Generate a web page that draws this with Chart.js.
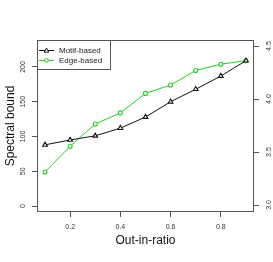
<!DOCTYPE html>
<html>
<head>
<meta charset="utf-8">
<script src="https://cdn.jsdelivr.net/npm/chart.js@4"></script>
<style>
  html, body { margin: 0; padding: 0; background: #fff; }
  #wrap { width: 273px; height: 262px; }
</style>
</head>
<body>
<div id="wrap"><canvas id="chart"></canvas></div>
<script>
  // values
  const outInRatio = [0.1, 0.2, 0.3, 0.4, 0.5, 0.6, 0.7, 0.8, 0.9];
  const motifBased = [88, 95, 101, 112, 128, 150, 168, 187, 209];
  const edgeBased = [49, 86, 118, 134, 162, 174, 195, 204, 209];
  const xTicks = [0.2, 0.4, 0.6, 0.8];
  const yTicks = [0, 50, 100, 150, 200];
  const y2Ticks = [3.0, 3.5, 4.0, 4.5];

  const FONT = "'Liberation Sans', Arial, sans-serif";
  const AXIS = '#555';
  const GREEN = '#22d022';

  const pts = (ys) => ys.map((y, i) => ({ x: outInRatio[i], y: y }));
  const setTicks = (arr) => (scale) => { scale.ticks = arr.map((v) => ({ value: v })); };

  // R style box round the plot, rotated y tick labels and the legend
  const rStyle = {
    id: 'rStyle',
    afterDraw(chart) {
      const ctx = chart.ctx;
      const a = chart.chartArea;
      ctx.save();
      ctx.strokeStyle = AXIS;
      ctx.lineWidth = 1;
      ctx.strokeRect(Math.round(a.left) + 0.5, Math.round(a.top) + 0.5,
        Math.round(a.right - a.left) - 1, Math.round(a.bottom - a.top) - 1);

      // rotated tick labels on both y axes
      ctx.fillStyle = '#333';
      ctx.font = '7px ' + FONT;
      ctx.textAlign = 'center';
      ctx.textBaseline = 'middle';
      [['y', 23.5, (v) => String(v)], ['y2', 269, (v) => v.toFixed(1)]].forEach(([id, x, fmt]) => {
        const s = chart.scales[id];
        s.ticks.forEach((t) => {
          ctx.save();
          ctx.translate(x, s.getPixelForValue(t.value));
          ctx.rotate(-Math.PI / 2);
          ctx.fillText(fmt(t.value), 0, 0);
          ctx.restore();
        });
      });

      // legend
      const lx = a.left, ly = a.top;
      ctx.strokeStyle = AXIS;
      ctx.strokeRect(lx + 0.5, ly + 0.5, 73, 29);
      chart.data.datasets.forEach((ds, i) => {
        const cy = ly + 10.5 + i * 10;
        ctx.strokeStyle = ds.borderColor;
        ctx.lineWidth = 1;
        ctx.beginPath();
        ctx.moveTo(lx + 2, cy);
        ctx.lineTo(lx + 17, cy);
        ctx.stroke();
        ctx.beginPath();
        if (ds.pointStyle === 'triangle') {
          ctx.moveTo(lx + 9.5, cy - 2.5);
          ctx.lineTo(lx + 11.8, cy + 1.6);
          ctx.lineTo(lx + 7.2, cy + 1.6);
          ctx.closePath();
          ctx.fillStyle = '#fff';
          ctx.fill();
        } else {
          ctx.arc(lx + 9.5, cy, 1.9, 0, Math.PI * 2);
          ctx.fillStyle = '#fff';
          ctx.fill();
        }
        ctx.stroke();
        ctx.fillStyle = '#222';
        ctx.font = '8px ' + FONT;
        ctx.textAlign = 'left';
        ctx.fillText(ds.label, lx + 22, cy);
      });
      ctx.restore();
    }
  };

  new Chart(document.getElementById('chart'), {
    type: 'line',
    data: {
      datasets: [
        {
          label: 'Motif-based',
          data: pts(motifBased),
          borderColor: '#111',
          borderWidth: 1,
          pointStyle: 'triangle',
          pointRadius: 2.7,
          pointBorderWidth: 1.1,
          pointBackgroundColor: '#fff',
          pointBorderColor: '#111',
          yAxisID: 'y',
        },
        {
          label: 'Edge-based',
          data: pts(edgeBased),
          borderColor: GREEN,
          borderWidth: 1,
          pointStyle: 'circle',
          pointRadius: 2,
          pointBorderWidth: 1.1,
          pointBackgroundColor: '#fff',
          pointBorderColor: GREEN,
          yAxisID: 'y',
        },
      ],
    },
    options: {
      responsive: true,
      maintainAspectRatio: false,
      animation: false,
      layout: { padding: { top: 40, left: 0, right: 0, bottom: 0 } },
      plugins: { legend: { display: false }, tooltip: { enabled: false } },
      scales: {
        x: {
          type: 'linear',
          min: 0.068,
          max: 0.932,
          afterBuildTicks: setTicks(xTicks),
          afterFit: (s) => { s.height = 50; },
          border: { display: false },
          grid: { drawOnChartArea: false, tickLength: 5, color: AXIS, lineWidth: 1 },
          ticks: {
            color: '#333',
            font: { family: FONT, size: 7 },
            padding: 6,
            maxRotation: 0,
            callback: (v) => v.toFixed(1),
          },
          title: {
            display: true,
            text: 'Out-in-ratio',
            color: '#111',
            font: { family: FONT, size: 12 },
            padding: { top: 0, bottom: 14 },
          },
        },
        y: {
          position: 'left',
          min: -8.6,
          max: 238.8,
          afterBuildTicks: setTicks(yTicks),
          afterFit: (s) => { s.width = 37; },
          border: { display: false },
          grid: { drawOnChartArea: false, tickLength: 5, color: AXIS, lineWidth: 1 },
          ticks: { color: 'rgba(0,0,0,0)', font: { family: FONT, size: 7 } },
          title: {
            display: true,
            text: 'Spectral bound',
            color: '#111',
            font: { family: FONT, size: 12 },
            padding: { top: 3, bottom: 0 },
          },
        },
        y2: {
          position: 'right',
          min: 2.934,
          max: 4.557,
          afterBuildTicks: setTicks(y2Ticks),
          afterFit: (s) => { s.width = 19; },
          border: { display: false },
          grid: { drawOnChartArea: false, tickLength: 5, color: AXIS, lineWidth: 1 },
          ticks: { color: 'rgba(0,0,0,0)', font: { family: FONT, size: 7 } },
        },
      },
    },
    plugins: [rStyle],
  });
</script>
</body>
</html>
